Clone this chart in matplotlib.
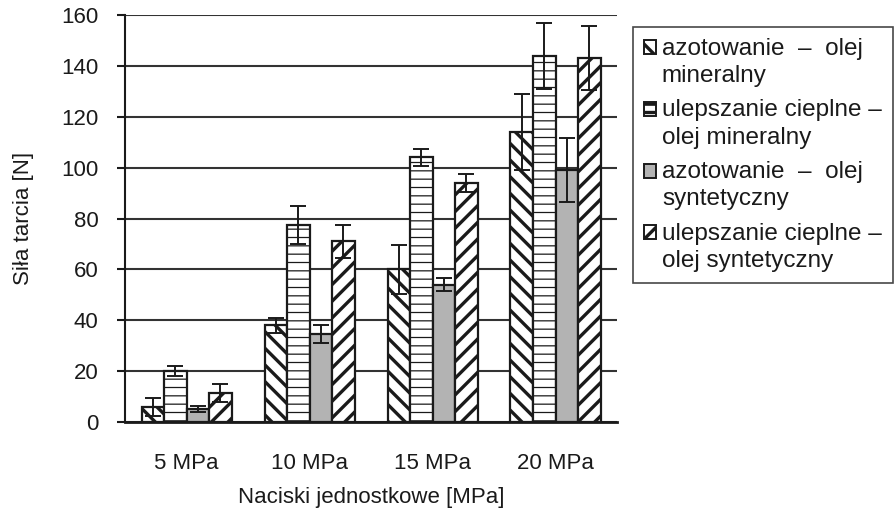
import matplotlib
matplotlib.use('Agg')
import matplotlib.pyplot as plt
import numpy as np
from matplotlib.patches import Rectangle
from matplotlib.legend_handler import HandlerPatch

plt.rcParams['font.family'] = ['Liberation Sans', 'DejaVu Sans']
plt.rcParams['hatch.linewidth'] = 2.4

# data
groups = ['5 MPa', '10 MPa', '15 MPa', '20 MPa']
labels = ['azotowanie  –  olej\nmineralny',
          'ulepszanie cieplne –\nolej mineralny',
          'azotowanie  –  olej\nsyntetyczny',
          'ulepszanie cieplne –\nolej syntetyczny']
azot_min = [6, 38, 60, 114]
azot_min_err = [3.5, 3, 9.5, 15]
ulep_min = [20, 77.5, 104, 144]
ulep_min_err = [2, 7.5, 3.5, 13]
azot_syn = [5, 34.5, 54, 99]
azot_syn_err = [1.2, 3.5, 2.5, 12.5]
ulep_syn = [11.5, 71, 94, 143]
ulep_syn_err = [3.5, 6.5, 3.5, 12.5]

series = [azot_min, ulep_min, azot_syn, ulep_syn]
errors = [azot_min_err, ulep_min_err, azot_syn_err, ulep_syn_err]
hatches = ['\\\\', '--', None, '//']
faces = ['white', 'white', '#b3b3b3', 'white']
ink = '#1a1a1a'

fig = plt.figure(figsize=(8.95, 5.18), dpi=100)
ax = fig.add_axes([0.1397, 0.1853, 0.5497, 0.7857])

x = np.arange(len(groups))
w = 0.183
handles = []
for i, (vals, errs) in enumerate(zip(series, errors)):
    pos = x + (i - 1.5) * w
    kw = {}
    if hatches[i] == '--':
        kw['hatch_linewidth'] = 0.9
    try:
        b = ax.bar(pos, vals, w, color=faces[i], edgecolor=ink,
                   linewidth=1.6, hatch=hatches[i], label=labels[i],
                   zorder=3, **kw)
    except Exception:
        b = ax.bar(pos, vals, w, color=faces[i], edgecolor=ink,
                   linewidth=1.6, hatch=hatches[i], label=labels[i],
                   zorder=3)
    ax.errorbar(pos, vals, yerr=errs, fmt='none', ecolor=ink,
                elinewidth=1.4, capsize=5.5, capthick=1.4, zorder=4)
    handles.append(Rectangle((0, 0), 1, 1, facecolor=faces[i],
                             edgecolor=ink, linewidth=1.4,
                             hatch=hatches[i], label=labels[i]))

ax.set_xlim(-0.5, 3.5)
ax.set_ylim(0, 160)
ax.set_yticks(range(0, 161, 20))
ax.set_xticks(x)
ax.set_xticklabels(groups)
ax.yaxis.grid(True, color='#333333', linewidth=1.5, zorder=0)
ax.set_axisbelow(True)
for s in ['top', 'right']:
    ax.spines[s].set_visible(False)
ax.spines['left'].set_linewidth(1.5)
ax.spines['bottom'].set_linewidth(2)
ax.spines['left'].set_color(ink)
ax.spines['bottom'].set_color(ink)
ax.tick_params(axis='y', length=6, width=1.5, color=ink,
               labelsize=16, pad=13, labelcolor=ink)
ax.tick_params(axis='x', length=0, labelsize=16, pad=22, labelcolor=ink)
ax.set_xlabel('Naciski jednostkowe [MPa]', fontsize=16, labelpad=10,
              color=ink)
ax.set_ylabel('Siła tarcia [N]', fontsize=16, labelpad=20, color=ink)


def top_square(legend, orig_handle, xdescent, ydescent, width, height, fontsize):
    # legend marker next to the first line of a two-line label
    return Rectangle((-xdescent, -ydescent + 0.62 * fontsize), width, height)


leg = fig.legend(handles=handles, loc='upper left',
                 bbox_to_anchor=(0.707, 0.948), fontsize=17.5,
                 frameon=True, fancybox=False, edgecolor=ink,
                 handlelength=0.5, handleheight=0.5, handletextpad=0.25,
                 labelspacing=0.5, borderpad=0.45, borderaxespad=0,
                 handler_map={Rectangle: HandlerPatch(patch_func=top_square)})
leg.get_frame().set_linewidth(1.2)
for t in leg.get_texts():
    t.set_color(ink)
    t.set_linespacing(1.32)

fig.savefig('out.png', dpi=100)
